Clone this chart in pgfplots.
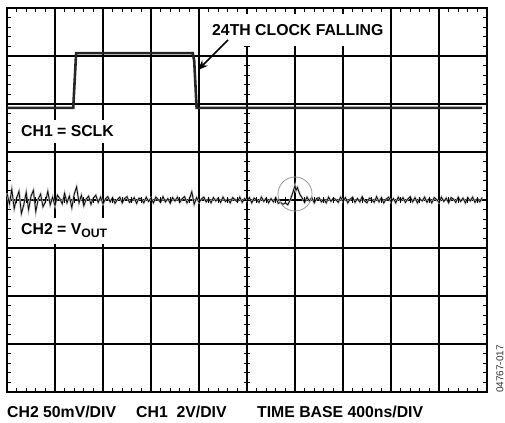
\documentclass[border=0pt]{standalone}
\usepackage{pgfplots}
\pgfplotsset{compat=1.18}
\usepackage{pgfplotstable}
\usepackage{fontspec}
\setmainfont{Liberation Sans}
\usetikzlibrary{arrows.meta}
\newcommand\lbl{\fontsize{15.8bp}{18bp}\selectfont\bfseries}
\pgfplotstableread[row sep=\\]{
x y\\
0.00 0.14\\ 0.05 -0.08\\ 0.10 0.22\\ 0.15 -0.18\\ 0.20 0.04\\ 0.25 0.18\\ 0.30 -0.28\\ 0.35 -0.10\\ 0.40 0.16\\ 0.45 -0.20\\
0.50 0.08\\ 0.55 0.20\\ 0.60 -0.24\\ 0.65 0.02\\ 0.70 0.12\\ 0.75 -0.14\\ 0.80 -0.04\\ 0.85 0.18\\ 0.90 -0.10\\ 0.95 0.06\\
1.00 -0.12\\ 1.05 0.10\\ 1.10 0.03\\ 1.15 -0.08\\ 1.20 0.14\\ 1.25 -0.06\\ 1.30 0.08\\ 1.35 -0.16\\ 1.40 0.12\\ 1.45 0.27\\
1.50 -0.06\\ 1.55 0.10\\ 1.60 -0.12\\ 1.65 0.02\\ 1.70 0.08\\ 1.75 -0.09\\ 1.80 0.04\\ 1.85 0.10\\ 1.90 -0.05\\ 1.95 0.06\\
2.00 -0.08\\ 2.05 0.02\\ 2.10 0.07\\ 2.15 -0.04\\ 2.20 0.05\\ 2.25 -0.07\\ 2.30 0.01\\ 2.35 0.06\\ 2.40 -0.06\\ 2.45 0.03\\
2.50 0.07\\ 2.55 -0.05\\ 2.60 -0.02\\ 2.65 0.05\\ 2.70 -0.07\\ 2.75 0.04\\ 2.80 0.02\\ 2.85 -0.06\\ 2.90 0.06\\ 2.95 -0.03\\
3.00 0.04\\ 3.05 -0.06\\ 3.10 0.06\\ 3.15 0.01\\ 3.20 -0.05\\ 3.25 0.07\\ 3.30 -0.04\\ 3.35 0.03\\ 3.40 -0.07\\ 3.45 0.05\\
3.50 -0.02\\ 3.55 0.06\\ 3.60 -0.05\\ 3.65 0.03\\ 3.70 0.07\\ 3.75 -0.06\\ 3.80 0.02\\ 3.85 0.17\\ 3.90 -0.09\\ 3.95 0.05\\
4.00 -0.05\\ 4.05 0.02\\ 4.10 0.06\\ 4.15 -0.04\\ 4.20 0.03\\ 4.25 -0.06\\ 4.30 0.05\\ 4.35 -0.02\\ 4.40 0.04\\ 4.45 -0.05\\
4.50 0.06\\ 4.55 -0.03\\ 4.60 0.02\\ 4.65 -0.06\\ 4.70 0.05\\ 4.75 0.01\\ 4.80 -0.04\\ 4.85 0.06\\ 4.90 -0.05\\ 4.95 0.03\\
5.00 -0.02\\ 5.05 0.05\\ 5.10 -0.06\\ 5.15 0.04\\ 5.20 0.00\\ 5.25 -0.05\\ 5.30 0.06\\ 5.35 -0.03\\ 5.40 0.04\\ 5.45 -0.06\\
5.50 0.03\\ 5.55 -0.04\\ 5.60 0.05\\ 5.65 -0.07\\ 5.70 -0.05\\ 5.75 -0.09\\ 5.80 -0.06\\ 5.85 -0.10\\ 5.90 0.00\\ 5.95 0.14\\
6.00 0.30\\ 6.02 0.20\\ 6.05 0.26\\ 6.10 0.12\\ 6.15 0.04\\ 6.20 -0.05\\ 6.25 0.06\\ 6.30 -0.02\\ 6.35 0.05\\ 6.40 -0.06\\ 6.45 0.03\\
6.50 0.05\\ 6.55 -0.04\\ 6.60 0.02\\ 6.65 -0.06\\ 6.70 0.06\\ 6.75 -0.03\\ 6.80 0.04\\ 6.85 0.01\\ 6.90 -0.05\\ 6.95 0.06\\
7.00 -0.03\\ 7.05 0.05\\ 7.10 -0.06\\ 7.15 0.02\\ 7.20 0.06\\ 7.25 -0.05\\ 7.30 0.03\\ 7.35 -0.04\\ 7.40 0.07\\ 7.45 -0.02\\
7.50 -0.06\\ 7.55 0.04\\ 7.60 0.01\\ 7.65 -0.05\\ 7.70 0.07\\ 7.75 -0.04\\ 7.80 0.05\\ 7.85 -0.06\\ 7.90 0.02\\ 7.95 0.06\\
8.00 -0.04\\ 8.05 0.03\\ 8.10 -0.06\\ 8.15 0.06\\ 8.20 -0.02\\ 8.25 0.05\\ 8.30 -0.05\\ 8.35 0.02\\ 8.40 0.07\\ 8.45 -0.04\\
8.50 0.05\\ 8.55 -0.06\\ 8.60 0.03\\ 8.65 -0.02\\ 8.70 0.06\\ 8.75 -0.05\\ 8.80 0.04\\ 8.85 -0.06\\ 8.90 0.05\\ 8.95 0.01\\
9.00 -0.05\\ 9.05 0.06\\ 9.10 -0.03\\ 9.15 0.04\\ 9.20 -0.06\\ 9.25 0.05\\ 9.30 0.02\\ 9.35 -0.05\\ 9.40 0.06\\ 9.45 -0.03\\
9.50 0.04\\ 9.55 -0.06\\ 9.60 0.05\\ 9.65 -0.02\\ 9.70 0.06\\ 9.75 -0.05\\ 9.80 0.03\\ 9.85 -0.04\\ 9.90 0.05\\
}\vout
\begin{document}
\begin{tikzpicture}
\path[use as bounding box] (-7bp,-31bp) rectangle (498bp,392bp);
\begin{axis}[
  width=480bp, height=384bp, scale only axis,
  xmin=0, xmax=10, ymin=-4, ymax=4,
  xtick={0,...,10}, ytick={-4,...,4},
  xticklabels={}, yticklabels={},
  minor x tick num=4, minor y tick num=4,
  grid=major, major grid style={black, line width=1.1bp},
  major tick length=0pt, minor tick length=4bp,
  tick align=inside, tick pos=both,
  every tick/.style={black, line width=0.9bp},
  axis line style={black, line width=2bp},
  clip=false,
]
% CH1 = SCLK
\addplot[black!85, line width=2.6bp] coordinates {
 (0,1.92) (1.38,1.92) (1.44,3.06) (3.87,3.06) (3.90,2.9) (3.95,1.92) (9.9,1.92)};
% CH2 = VOUT (persistence band, then trace)
\addplot[black!30, line width=2bp] table[x=x, y=y] {\vout};
\addplot[black, line width=0.7bp] table[x=x, y=y] {\vout};
\end{axis}
% centre-line graticule ticks
\foreach \i in {1,...,39} \draw[black, line width=0.9bp] (237bp,\i*9.6bp) -- (243bp,\i*9.6bp);
\foreach \i in {1,...,49} \draw[black, line width=0.9bp] (\i*9.6bp,189bp) -- (\i*9.6bp,195bp);
% annotation
\node[anchor=west, fill=white, inner xsep=6bp, inner ysep=0pt, minimum height=32bp] at (199bp,362bp) {\lbl 24TH CLOCK FALLING};
\draw[black, line width=1.5bp, -{Stealth[length=10bp,width=8bp]}] (221bp,352bp) -- (191bp,322bp);
\node[anchor=base west, fill=white, inner xsep=4bp, inner ysep=6bp] at (10bp,255bp) {\lbl CH1 = SCLK};
\node[anchor=base west, fill=white, inner xsep=4bp, inner ysep=6bp] at (10bp,157bp) {\lbl CH2 = V\raisebox{-3bp}{\fontsize{12.2bp}{14bp}\selectfont\bfseries OUT}};
\draw[black!40, line width=0.8bp] (288bp,198bp) circle (17bp);
% bottom captions
\node[anchor=base west, inner sep=0pt] at (0bp,-25bp) {\lbl CH2 50mV/DIV};
\node[anchor=base west, inner sep=0pt] at (129bp,-25bp) {\lbl CH1\ \ 2V/DIV};
\node[anchor=base west, inner sep=0pt] at (250bp,-25bp) {\lbl TIME BASE 400ns/DIV};
\node[rotate=90, inner sep=0pt, text=black!80] at (493bp,23bp) {\fontsize{10bp}{12bp}\selectfont 04767-017};
\end{tikzpicture}
\end{document}
